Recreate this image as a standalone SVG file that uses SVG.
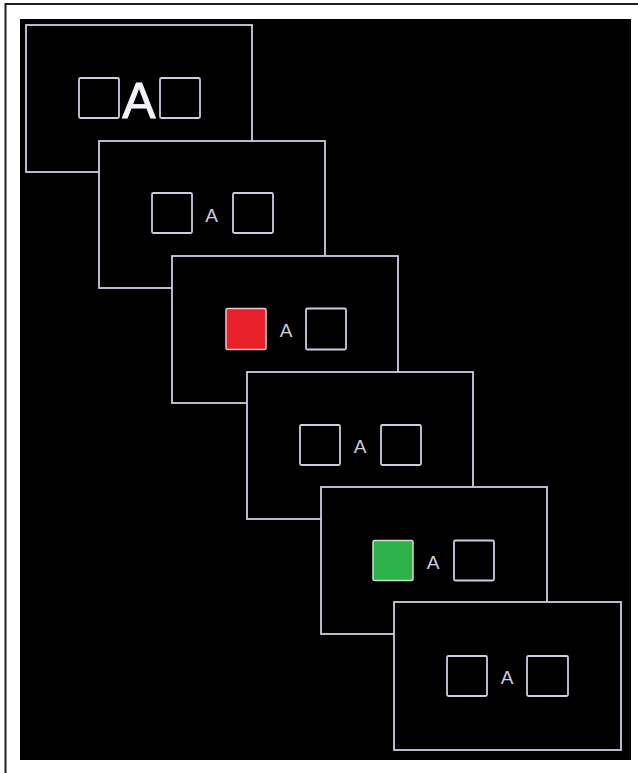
<svg xmlns="http://www.w3.org/2000/svg" width="638" height="773" viewBox="0 0 638 773">
<style>
.frame{fill:#000;stroke:#cfcbe0;stroke-width:1.8}
.sq{fill:#000;stroke:#cfcbe0;stroke-width:1.8}
.red{fill:#e8202a;stroke:#e8c8cc;stroke-width:1.5}
.green{fill:#2db34a;stroke:#c8e0cc;stroke-width:1.5}
.a{fill:#cfcbe0;font-family:"Liberation Sans",Arial,sans-serif;font-size:19px;text-anchor:middle}
.big{fill:#f4f2fa;stroke:#f4f2fa;stroke-width:0.9;font-family:"Liberation Sans",Arial,sans-serif;font-size:50px;text-anchor:middle}
</style>
<rect x="0" y="0" width="638" height="773" fill="#fff"/>
<rect x="5.5" y="4" width="640" height="790" fill="none" stroke="#231f20" stroke-width="2"/>
<rect x="20" y="19" width="611" height="741" fill="#000"/>
<g id="frame1" transform="translate(26,25)">
<rect class="frame" x="0" y="0" width="226" height="147"/>
<rect class="sq" x="53" y="53" width="40" height="40" rx="1.5"/>
<rect class="sq" x="134" y="53" width="40" height="40" rx="1.5"/>
<text class="big" x="113" y="93">A</text>
</g>
<g id="frame2" transform="translate(99,141)">
<rect class="frame" x="0" y="0" width="226" height="147"/>
<rect class="sq" x="53" y="52" width="40" height="40" rx="1.5"/>
<rect class="sq" x="134" y="52" width="40" height="40" rx="1.5"/>
<text class="a" x="112.5" y="81">A</text>
</g>
<g id="frame3" transform="translate(172,256)">
<rect class="frame" x="0" y="0" width="226" height="147"/>
<rect class="red" x="54" y="52.5" width="40" height="41" rx="1.5"/>
<rect class="sq" x="134" y="52.5" width="40" height="41" rx="1.5"/>
<text class="a" x="114" y="81">A</text>
</g>
<g id="frame4" transform="translate(247,372)">
<rect class="frame" x="0" y="0" width="226" height="147"/>
<rect class="sq" x="53" y="53" width="40" height="40" rx="1.5"/>
<rect class="sq" x="134" y="53" width="40" height="40" rx="1.5"/>
<text class="a" x="113" y="81">A</text>
</g>
<g id="frame5" transform="translate(321,487)">
<rect class="frame" x="0" y="0" width="226" height="147"/>
<rect class="green" x="52" y="53.5" width="40" height="40" rx="1.5"/>
<rect class="sq" x="133" y="53.5" width="40" height="40" rx="1.5"/>
<text class="a" x="112" y="81.5">A</text>
</g>
<g id="frame6" transform="translate(394,602)">
<rect class="frame" x="0" y="0" width="227" height="148"/>
<rect class="sq" x="53" y="54" width="40" height="40" rx="1.5"/>
<rect class="sq" x="133" y="54" width="41" height="40" rx="1.5"/>
<text class="a" x="113" y="82">A</text>
</g>
</svg>
